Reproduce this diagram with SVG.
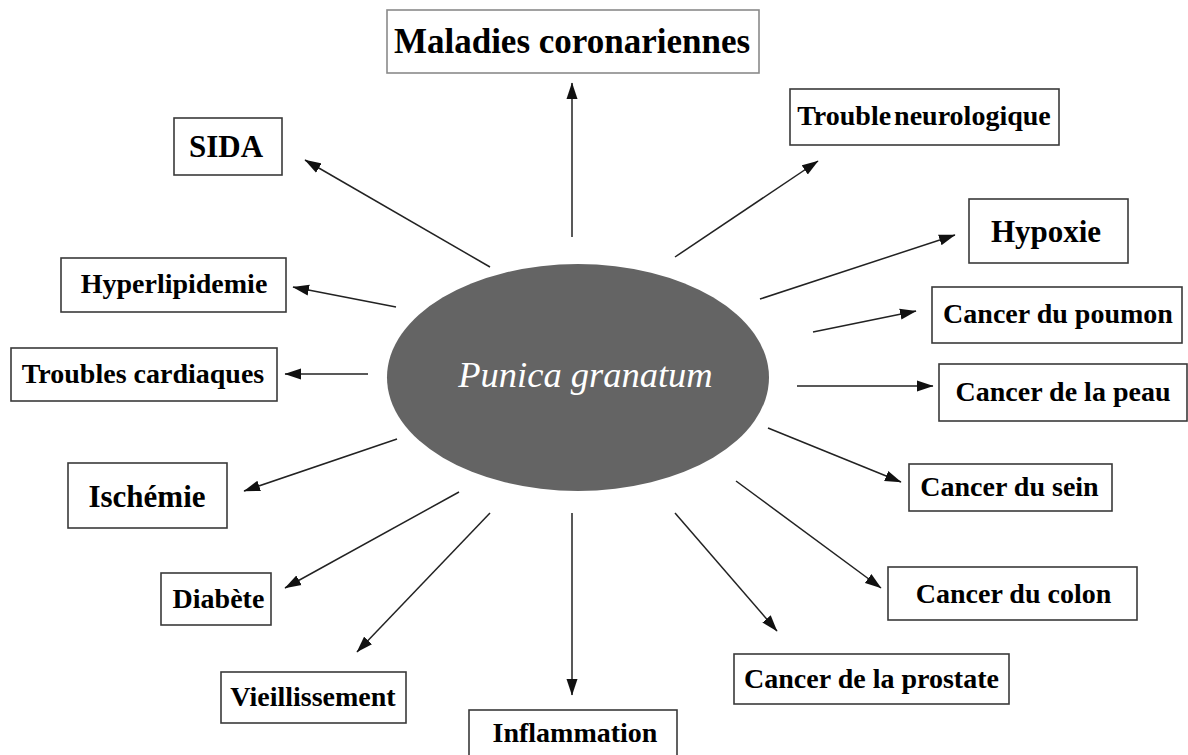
<svg xmlns="http://www.w3.org/2000/svg" width="1188" height="755" viewBox="0 0 1188 755">
<defs>
<marker id="ah" markerUnits="userSpaceOnUse" markerWidth="17" markerHeight="12" viewBox="0 0 17 12" refX="16" refY="6" orient="auto">
<path d="M0,0.5 L16.5,6 L0,11.5 z" fill="#111"/>
</marker>
<style>
.box{fill:#fff;stroke:#3a3a3a;stroke-width:1.6}
.box2{fill:#fff;stroke:#8a8a8a;stroke-width:1.6}
.lbl{font-family:"Liberation Serif","Times New Roman",serif;font-weight:bold;font-size:28px;fill:#000;text-anchor:middle}
.big{font-size:31px}
.con line{stroke:#222;stroke-width:1.5;marker-end:url(#ah)}
</style>
</defs>
<rect width="1188" height="755" fill="#fff"/>

<g id="center">
<ellipse cx="578" cy="377.5" rx="191" ry="113.5" fill="#646464"/>
<text x="585.5" y="387" font-family="'Liberation Serif','Times New Roman',serif" font-style="italic" font-size="36.5" fill="#fff" text-anchor="middle">Punica granatum</text>
</g>

<g class="con" id="connectors">
<line x1="572" y1="237" x2="572" y2="83"/>
<line x1="490" y1="267" x2="305" y2="160"/>
<line x1="396" y1="307" x2="293" y2="287"/>
<line x1="368" y1="374" x2="285" y2="374"/>
<line x1="397" y1="439" x2="244" y2="491"/>
<line x1="459" y1="492" x2="285" y2="588"/>
<line x1="490" y1="513" x2="357" y2="652"/>
<line x1="572" y1="513" x2="572" y2="695"/>
<line x1="675" y1="513" x2="777" y2="631"/>
<line x1="736" y1="481" x2="881" y2="588"/>
<line x1="768" y1="428" x2="901" y2="482"/>
<line x1="797" y1="386" x2="933" y2="386"/>
<line x1="813" y1="332" x2="916" y2="311"/>
<line x1="760" y1="299" x2="955" y2="235"/>
<line x1="675" y1="257" x2="818" y2="161"/>
</g>

<g id="n-maladies">
<rect class="box2" x="387" y="10" width="372" height="63"/>
<text class="lbl" x="572" y="53" font-size="35" style="font-size:35px">Maladies coronariennes</text>
</g>
<g id="n-sida">
<rect class="box" x="174" y="118" width="108" height="57"/>
<text class="lbl big" x="226" y="157">SIDA</text>
</g>
<g id="n-hyperlipidemie">
<rect class="box" x="61" y="258" width="225" height="54"/>
<text class="lbl" x="174" y="293">Hyperlipidemie</text>
</g>
<g id="n-troubles-cardiaques">
<rect class="box" x="11" y="348" width="266" height="53"/>
<text class="lbl" x="143" y="383">Troubles cardiaques</text>
</g>
<g id="n-ischemie">
<rect class="box" x="68" y="463" width="159" height="65"/>
<text class="lbl big" x="147" y="507">Ischémie</text>
</g>
<g id="n-diabete">
<rect class="box" x="161" y="573" width="110" height="52"/>
<text class="lbl" x="218.5" y="608">Diabète</text>
</g>
<g id="n-vieillissement">
<rect class="box" x="221" y="672" width="185" height="51"/>
<text class="lbl" x="313" y="706">Vieillissement</text>
</g>
<g id="n-inflammation">
<rect class="box" x="469" y="710" width="208" height="60"/>
<text class="lbl" x="575" y="742">Inflammation</text>
</g>
<g id="n-prostate">
<rect class="box" x="734" y="654" width="275" height="50"/>
<text class="lbl" x="871.5" y="688">Cancer de la prostate</text>
</g>
<g id="n-colon">
<rect class="box" x="888" y="567" width="249" height="53"/>
<text class="lbl" x="1013.5" y="603">Cancer du colon</text>
</g>
<g id="n-sein">
<rect class="box" x="909" y="464" width="203" height="47"/>
<text class="lbl" x="1009.5" y="496">Cancer du sein</text>
</g>
<g id="n-peau">
<rect class="box" x="939" y="364" width="248" height="57"/>
<text class="lbl" x="1063" y="401">Cancer de la peau</text>
</g>
<g id="n-poumon">
<rect class="box" x="932" y="287" width="250" height="56"/>
<text class="lbl" x="1058" y="323">Cancer du poumon</text>
</g>
<g id="n-hypoxie">
<rect class="box" x="969" y="199" width="159" height="64"/>
<text class="lbl big" x="1046" y="242">Hypoxie</text>
</g>
<g id="n-trouble-neuro">
<rect class="box" x="790" y="89" width="269" height="56"/>
<text class="lbl" x="924" y="125" word-spacing="-4">Trouble neurologique</text>
</g>
</svg>
